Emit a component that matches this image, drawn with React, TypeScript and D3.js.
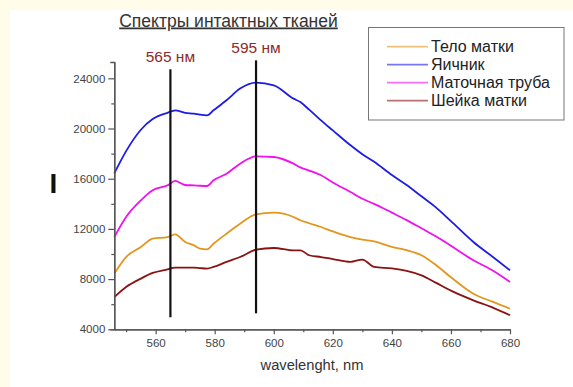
import React, { useEffect, useRef } from "react";
import * as d3 from "d3";

// Wavelength grid (nm) shared by all spectra
const wavelengths = [
  546, 550, 555, 559, 564, 566.6, 570, 573, 575, 577.4, 579.6, 584, 588.6, 594,
  600, 606.7, 609, 612, 616, 620, 626, 630, 634, 640, 645, 650, 655, 660, 667.6,
  674, 680,
];

const teloMatki = [
  8440, 9760, 10560, 11230, 11350, 11570, 10960, 10690, 10430, 10370, 10820,
  11620, 12410, 13160, 13290, 12950, 12690, 12450, 12150, 11800, 11350, 11150,
  11000, 10560, 10300, 9900, 9100, 8150, 6840, 6200, 5640,
];
const yaichnik = [
  16430, 18200, 19900, 20750, 21250, 21450, 21250, 21180, 21100, 21050, 21450,
  22250, 23180, 23650, 23440, 22380, 22110, 21500, 20650, 19850, 18660, 17950,
  17350, 16300, 15500, 14600, 13700, 12620, 10960, 9800, 8700,
];
const matochnayaTruba = [
  11350, 12950, 14280, 15080, 15470, 15820, 15500, 15470, 15440, 15420, 15870,
  16400, 17200, 17780, 17730, 17200, 16900, 16650, 16270, 15700, 14940, 14400,
  14000, 13300, 12700, 12050, 11400, 10650, 9500, 8700, 7770,
];
const sheikaMatki = [
  6570, 7370, 8040, 8490, 8780, 8920, 8920, 8920, 8880, 8840, 8970, 9370, 9760,
  10340, 10480, 10290, 10290, 9900, 9760, 9600, 9370, 9560, 8970, 8850, 8650,
  8300, 7700, 7080, 6310, 5750, 5120,
];

const seriesNames = ["Тело матки", "Яичник", "Маточная труба", "Шейка матки"];
const seriesValues = [teloMatki, yaichnik, matochnayaTruba, sheikaMatki];

// Marker lines: position, label, vertical extent
const markerPos = [565, 594];
const markerLabels = ["565 нм", "595 нм"];
const markerTop = [24720, 25430];
const markerBottom = [4960, 5270];

const xMajor = [560, 580, 600, 620, 640, 660, 680];
const xMinor = [550, 570, 590, 610, 630, 650, 670];
const yMajor = [4000, 8000, 12000, 16000, 20000, 24000];
const yMinor = [6000, 10000, 14000, 18000, 22000];

const colors = ["#e3961e", "#1c1ce6", "#f010f0", "#8b1212"];
const font = "Arial, 'Liberation Sans', sans-serif";

export default function App() {
  const axesRef = useRef<SVGGElement>(null);

  const x = d3.scaleLinear().domain([546, 680]).range([114.3, 510]);
  const y = d3.scaleLinear().domain([4000, 25300]).range([329.3, 62]);

  useEffect(() => {
    const g = d3.select(axesRef.current);
    g.selectAll("*").remove();

    // x axis
    const xg = g.append("g").attr("transform", `translate(0,${y(4000)})`);
    xg.call(
      d3.axisBottom(x).tickValues(xMajor).tickSize(5).tickSizeOuter(0).tickPadding(5)
    );
    xg.append("g").call(
      d3.axisBottom(x).tickValues(xMinor).tickSize(3).tickSizeOuter(0).tickFormat(() => "")
    );

    // y axis
    const yg = g.append("g").attr("transform", `translate(${x(546)},0)`);
    yg.call(
      d3.axisLeft(y).tickValues(yMajor).tickSize(6).tickSizeOuter(4).tickPadding(3)
        .tickFormat((d) => String(d))
    );
    yg.append("g").call(
      d3.axisLeft(y).tickValues(yMinor).tickSize(3).tickSizeOuter(0).tickFormat(() => "")
    );

    g.selectAll(".domain").attr("stroke", "#555").attr("stroke-width", 1.3);
    g.selectAll(".tick line").attr("stroke", "#555").attr("stroke-width", 1.2);
    g.selectAll(".tick text")
      .attr("fill", "#444")
      .attr("font-size", 11.5)
      .attr("font-family", font);
  }, []);

  const line = d3
    .line<number>()
    .x((_, i) => x(wavelengths[i]))
    .y((d) => y(d))
    .curve(d3.curveMonotoneX);

  return (
    <svg
      width={573}
      height={387}
      style={{ position: "absolute", left: 0, top: 0, display: "block" }}
    >
      <rect x={0} y={0} width={573} height={387} fill="#fffde9" />
      <rect x={10} y={10} width={563} height={377} fill="#ffffff" />

      <text
        x={228.5}
        y={26.5}
        textAnchor="middle"
        fontFamily={font}
        fontSize={17.5}
        fill="#333"
        textDecoration="underline"
      >
        Спектры интактных тканей
      </text>

      {seriesValues.map((vals, i) => (
        <path
          key={seriesNames[i]}
          d={line(vals) ?? ""}
          fill="none"
          stroke={colors[i]}
          strokeWidth={1.8}
          strokeLinejoin="round"
        />
      ))}

      {markerPos.map((m, i) => (
        <g key={m}>
          <line
            x1={x(m)}
            x2={x(m)}
            y1={y(markerTop[i])}
            y2={y(markerBottom[i])}
            stroke="#111"
            strokeWidth={2.2}
          />
          <text
            x={x(m)}
            y={y(markerTop[i]) - 7}
            textAnchor="middle"
            fontFamily={font}
            fontSize={15.5}
            fill="#8b2a2a"
          >
            {markerLabels[i]}
          </text>
        </g>
      ))}

      <g ref={axesRef} />

      <text
        x={53.5}
        y={193}
        textAnchor="middle"
        fontFamily={font}
        fontSize={28}
        fontWeight="bold"
        fill="#111"
      >
        I
      </text>

      <text
        x={312}
        y={369.5}
        textAnchor="middle"
        fontFamily={font}
        fontSize={14.7}
        fill="#333"
      >
        wavelenght, nm
      </text>

      <g>
        <rect
          x={368.5}
          y={27.5}
          width={195.5}
          height={92.5}
          fill="#fff"
          stroke="#777"
          strokeWidth={1}
        />
        {seriesNames.map((name, i) => (
          <g key={name} transform={`translate(0,${46.7 + i * 18})`}>
            <line
              x1={387}
              x2={428}
              y1={0}
              y2={0}
              stroke={colors[i]}
              strokeOpacity={0.6}
              strokeWidth={1.8}
            />
            <text
              x={431}
              y={5.2}
              fontFamily={font}
              fontSize={16}
              fill="#222"
            >
              {name}
            </text>
          </g>
        ))}
      </g>
    </svg>
  );
}
